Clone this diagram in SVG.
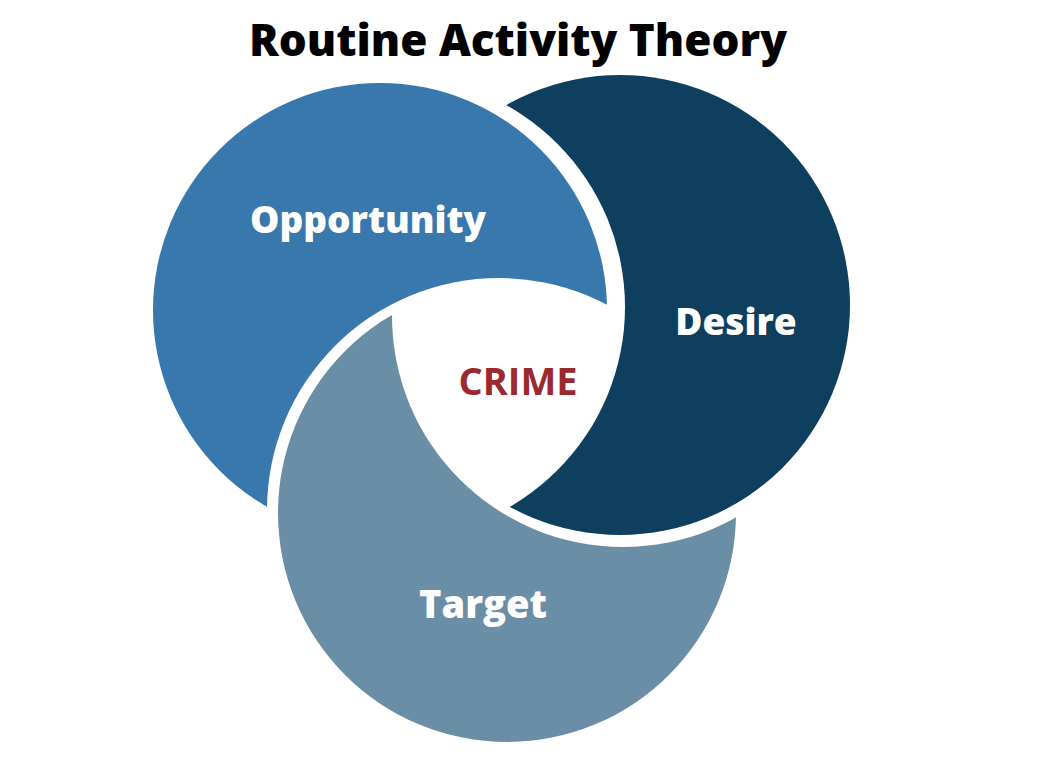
<svg xmlns="http://www.w3.org/2000/svg" width="1038" height="778" viewBox="0 0 1038 778">
<style>
.lbl{font-family:"Open Sans","Noto Sans","Liberation Sans",sans-serif;font-weight:800;fill:#ffffff;text-anchor:middle}
.title{font-family:"Open Sans","Noto Sans","Liberation Sans",sans-serif;font-weight:800;fill:#000000;text-anchor:middle}
.crime{font-family:"Open Sans","Noto Sans","Liberation Sans",sans-serif;font-weight:700;fill:#9b2a2e;text-anchor:middle}
</style>
<defs>
<mask id="cutO" maskUnits="userSpaceOnUse" x="0" y="0" width="1038" height="778">
<rect x="0" y="0" width="1038" height="778" fill="#fff"/>
<circle cx="499" cy="510" r="232" fill="#000"/>
</mask>
<mask id="cutD" maskUnits="userSpaceOnUse" x="0" y="0" width="1038" height="778">
<rect x="0" y="0" width="1038" height="778" fill="#fff"/>
<circle cx="394" cy="307" r="231" fill="#000"/>
</mask>
<mask id="cutT" maskUnits="userSpaceOnUse" x="0" y="0" width="1038" height="778">
<rect x="0" y="0" width="1038" height="778" fill="#fff"/>
<circle cx="623" cy="316" r="231" fill="#000"/>
</mask>
</defs>
<rect x="0" y="0" width="1038" height="778" fill="#ffffff"/>
<text class="title" x="518" y="56" font-size="44">Routine Activity Theory</text>
<g id="opportunity">
<circle cx="380" cy="310" r="227" fill="#3878ad" mask="url(#cutO)"/>
<text class="lbl" x="368" y="233" font-size="37">Opportunity</text>
</g>
<g id="desire">
<circle cx="620" cy="305" r="230" fill="#0e3f5e" mask="url(#cutD)"/>
<text class="lbl" x="736" y="335" font-size="37">Desire</text>
</g>
<g id="target">
<circle cx="507" cy="513" r="229" fill="#6b8ea7" mask="url(#cutT)"/>
<text class="lbl" x="483" y="618" font-size="38">Target</text>
</g>
<g id="crime">
<text class="crime" x="518" y="395" font-size="38">CRIME</text>
</g>
<g id="connectors"/>
</svg>
